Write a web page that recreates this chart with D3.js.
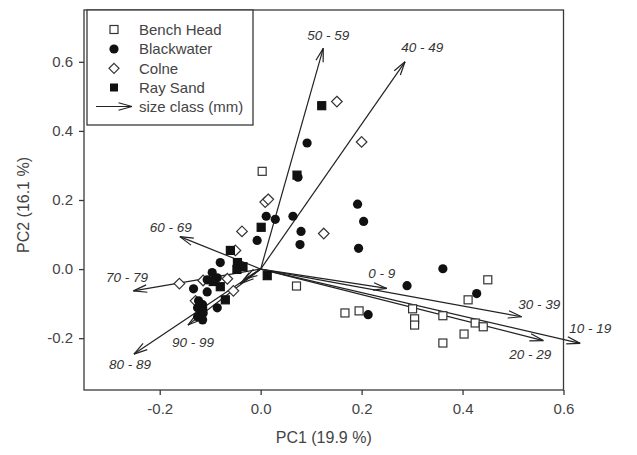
<!DOCTYPE html>
<html><head><meta charset="utf-8">
<script src="https://cdn.jsdelivr.net/npm/d3@7"></script>
<style>body{margin:0;background:#fff}svg{display:block}text{font-family:"Liberation Sans",Arial,sans-serif}</style>
</head><body><svg id="c" width="637" height="455"></svg>
<script>
// ---- data ----
const xTicks = [-0.2, 0.0, 0.2, 0.4, 0.6];
const yTicks = [-0.2, 0.0, 0.2, 0.4, 0.6];
const xTitle = "PC1 (19.9 %)";
const yTitle = "PC2 (16.1 %)";
const seriesNames = ["Bench Head", "Blackwater", "Colne", "Ray Sand"];
const benchHead = [[0.003,0.283],[0.071,-0.049],[0.167,-0.127],[0.195,-0.121],[0.301,-0.115],[0.305,-0.144],[0.305,-0.162],[0.361,-0.135],[0.361,-0.214],[0.403,-0.188],[0.411,-0.089],[0.425,-0.156],[0.441,-0.167],[0.450,-0.031]];
const blackwater = [[0.092,0.365],[0.074,0.266],[0.064,0.153],[0.080,0.109],[0.078,0.071],[0.011,0.153],[0.029,0.144],[-0.007,0.083],[0.192,0.188],[0.204,0.138],[0.194,0.060],[0.361,0.001],[0.290,-0.048],[0.428,-0.071],[0.213,-0.132],
  [-0.080,0.019],[-0.096,-0.010],[-0.086,-0.025],[-0.106,-0.031],[-0.133,-0.057],[-0.106,-0.066],[-0.115,-0.103],[-0.125,-0.112],[-0.086,-0.112],[-0.119,-0.132],[-0.114,-0.127],[-0.125,-0.138],[-0.123,-0.092],[-0.115,-0.147]];
const colne = [[0.151,0.485],[0.200,0.368],[0.009,0.194],[0.015,0.202],[-0.037,0.109],[0.125,0.103],[-0.050,0.054],[-0.066,-0.028],[-0.114,-0.033],[-0.161,-0.042],[-0.054,-0.063],[-0.129,-0.092]];
const raySand = [[0.121,0.473],[0.072,0.272],[0.001,0.121],[-0.060,0.054],[-0.046,0.019],[-0.035,0.007],[-0.094,-0.036],[-0.080,-0.051],[-0.070,-0.089],[-0.115,-0.121],[0.013,-0.019],[-0.047,-0.001]];
const sizeClasses = ["50 - 59","40 - 49","60 - 69","70 - 79","80 - 89","90 - 99","0 - 9","30 - 39","20 - 29","10 - 19","",""];
const loadX = [0.124, 0.286, -0.160, -0.252, -0.251, -0.144, 0.250, 0.517, 0.560, 0.633, -0.033, -0.040];
const loadY = [0.639, 0.600, 0.094, -0.063, -0.246, -0.162, -0.056, -0.138, -0.207, -0.215, -0.030, -0.042];
// label anchor positions in data units
const labX = [0.134, 0.320, -0.178, -0.265, -0.259, -0.134, 0.240, 0.552, 0.534, 0.653, null, null];
const labY = [0.678, 0.643, 0.122, -0.023, -0.275, -0.211, -0.011, -0.101, -0.246, -0.170, null, null];

// ---- layout ----
const svg = d3.select("#c");
const L = 84, R = 563.5, T = 10, B = 390;
const x = d3.scaleLinear().domain([-0.35, 0.6]).range([L, R]);
const y = d3.scaleLinear().domain([-0.35, 0.75]).range([B, T]);
const axisCol = "#3a3a3a", textCol = "#444";

// frame
svg.append("rect").attr("x", L).attr("y", T).attr("width", R - L).attr("height", B - T)
  .attr("fill", "none").attr("stroke", axisCol).attr("stroke-width", 1.3);

const gx = svg.append("g").attr("transform", `translate(0,${B})`)
  .call(d3.axisBottom(x).tickValues(xTicks).tickFormat(d3.format(".1f")).tickSize(5).tickPadding(8));
const gy = svg.append("g").attr("transform", `translate(${L},0)`)
  .call(d3.axisLeft(y).tickValues(yTicks).tickFormat(d3.format(".1f")).tickSize(5).tickPadding(6));
[gx, gy].forEach(g => {
  g.select(".domain").remove();
  g.selectAll(".tick line").attr("stroke", axisCol).attr("stroke-width", 1.3);
  g.selectAll(".tick text").attr("fill", textCol).attr("font-size", 15)
    .attr("font-family", '"Liberation Sans",Arial,sans-serif').text(d => d3.format(".1f")(d).replace("−", "-"));
});

svg.append("text").attr("x", (L + R) / 2).attr("y", 443).attr("text-anchor", "middle")
  .attr("font-size", 16).attr("fill", textCol).text(xTitle);
svg.append("text").attr("transform", `translate(29,205) rotate(-90)`).attr("text-anchor", "middle")
  .attr("font-size", 16).attr("fill", textCol).text(yTitle);

// arrows
function arrow(g, x1, y1, x2, y2, len, ang) {
  g.append("line").attr("x1", x1).attr("y1", y1).attr("x2", x2).attr("y2", y2);
  const a = Math.atan2(y2 - y1, x2 - x1);
  [ang, -ang].forEach(s => {
    g.append("line").attr("x1", x2).attr("y1", y2)
      .attr("x2", x2 - len * Math.cos(a + s)).attr("y2", y2 - len * Math.sin(a + s));
  });
}
const ga = svg.append("g").attr("stroke", "#222").attr("stroke-width", 1.2).attr("fill", "none");
loadX.forEach((lx, i) => arrow(ga, x(0), y(0), x(lx), y(loadY[i]), 14, 0.27));

// points
const sq = 8, cr = 4.6, dm = 5.3;
const gp = svg.append("g");
function drawSquares(data, filled) {
  gp.selectAll(null).data(data).enter().append("rect")
    .attr("x", d => x(d[0]) - sq / 2).attr("y", d => y(d[1]) - sq / 2).attr("width", sq).attr("height", sq)
    .attr("fill", filled ? "#111" : "#fff").attr("stroke", filled ? "#111" : "#333").attr("stroke-width", 1.2);
}
drawSquares(benchHead, false);
gp.selectAll(null).data(colne).enter().append("path")
  .attr("d", d => `M${x(d[0])},${y(d[1]) - dm}L${x(d[0]) + dm},${y(d[1])}L${x(d[0])},${y(d[1]) + dm}L${x(d[0]) - dm},${y(d[1])}Z`)
  .attr("fill", "#fff").attr("stroke", "#333").attr("stroke-width", 1.2);
gp.selectAll(null).data(blackwater).enter().append("circle")
  .attr("cx", d => x(d[0])).attr("cy", d => y(d[1])).attr("r", cr).attr("fill", "#111");
drawSquares(raySand, true);

// arrow labels
svg.append("g").selectAll("text").data(sizeClasses.map((s, i) => ({ s, i })).filter(d => d.s))
  .enter().append("text")
  .attr("x", d => x(labX[d.i])).attr("y", d => y(labY[d.i])).attr("dy", "0.35em")
  .attr("text-anchor", "middle").attr("font-size", 13.5).attr("font-style", "italic")
  .attr("fill", "#333").text(d => d.s);

// legend
const lg = svg.append("g");
lg.append("rect").attr("x", 87).attr("y", T).attr("width", 166).attr("height", 115)
  .attr("fill", "#fff").attr("stroke", axisCol).attr("stroke-width", 1.3);
const rows = [29.5, 49, 68.3, 87.5, 106.5];
const mx = 114;
lg.append("rect").attr("x", mx - 4).attr("y", rows[0] - 4).attr("width", 8).attr("height", 8).attr("fill", "#fff").attr("stroke", "#333").attr("stroke-width", 1.2);
lg.append("circle").attr("cx", mx).attr("cy", rows[1]).attr("r", 4.6).attr("fill", "#111");
lg.append("path").attr("d", `M${mx},${rows[2] - 5}L${mx + 5},${rows[2]}L${mx},${rows[2] + 5}L${mx - 5},${rows[2]}Z`).attr("fill", "#fff").attr("stroke", "#333").attr("stroke-width", 1.2);
lg.append("rect").attr("x", mx - 4).attr("y", rows[3] - 4).attr("width", 8).attr("height", 8).attr("fill", "#111");
const la = lg.append("g").attr("stroke", "#222").attr("stroke-width", 1.2);
arrow(la, 96, rows[4], 132, rows[4], 14, 0.27);
seriesNames.concat(["size class (mm)"]).forEach((n, i) => {
  lg.append("text").attr("x", 139).attr("y", rows[i]).attr("dy", "0.36em").attr("font-size", 15)
    .attr("fill", textCol).text(n);
});
</script></body></html>
